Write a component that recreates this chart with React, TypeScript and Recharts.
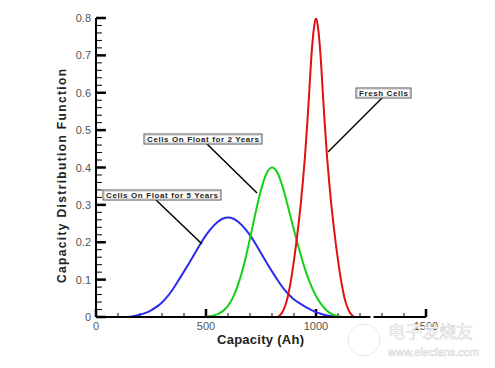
import { LineChart, Line, XAxis, YAxis, ReferenceLine } from 'recharts'

// capacity (Ah) sample points and the read-off distribution values
const blueCap = [
  125, 150, 175, 200, 225, 250, 275, 300, 325, 350, 375, 400, 425, 450, 475, 500, 525, 550, 575, 600, 625,
  650, 675, 700, 725, 750, 775, 800, 825, 850, 875, 900, 925, 950, 975, 1000, 1025, 1050, 1075, 1100,
]
const fiveYears = [
  0, 0.001, 0.003, 0.006, 0.011, 0.018, 0.027, 0.039, 0.055, 0.075, 0.098, 0.122, 0.146, 0.171, 0.196, 0.219,
  0.238, 0.253, 0.263, 0.266, 0.263, 0.253, 0.238, 0.219, 0.196, 0.171, 0.146, 0.122, 0.099, 0.078, 0.061,
  0.047, 0.037, 0.028, 0.02, 0.013, 0.008, 0.004, 0.002, 0,
]

const greenCap = [
  500, 525, 550, 575, 600, 625, 650, 675, 700, 725, 750, 775, 800, 825, 850, 875, 900, 925, 950, 975, 1000,
  1025, 1050, 1075, 1100, 1125,
]
const twoYears = [
  0.001, 0.003, 0.007, 0.015, 0.03, 0.055, 0.094, 0.146, 0.21, 0.278, 0.34, 0.384, 0.4, 0.386, 0.345, 0.29,
  0.232, 0.178, 0.128, 0.088, 0.056, 0.033, 0.017, 0.007, 0.002, 0,
]

const redCap = [
  830, 840, 850, 860, 870, 880, 890, 900, 910, 920, 930, 940, 950, 960, 970, 980, 990, 1000, 1010, 1020, 1030,
  1040, 1050, 1060, 1070, 1080, 1090, 1100, 1110, 1120, 1130, 1140, 1150, 1160, 1170,
]
const fresh = [
  0.002, 0.007, 0.016, 0.03, 0.05, 0.078, 0.112, 0.152, 0.196, 0.245, 0.298, 0.36, 0.43, 0.515, 0.61, 0.705,
  0.77, 0.8, 0.77, 0.705, 0.61, 0.515, 0.43, 0.36, 0.298, 0.245, 0.196, 0.152, 0.112, 0.078, 0.05, 0.03,
  0.016, 0.007, 0.002,
]

const xLabels = [0, 500, 1000, 1500]
const xMinor = [100, 200, 300, 400, 600, 700, 800, 900, 1100, 1200, 1300, 1400]
const yLabels = [0, 0.1, 0.2, 0.3, 0.4, 0.5, 0.6, 0.7, 0.8]
const yMinor: number[] = []
for (let i = 1; i < 40; i++) if (i % 5 !== 0) yMinor.push(i / 50)

const toRows = (xs: number[], ys: number[]) => xs.map((x, i) => ({ x, y: ys[i] }))

const W = 495
const H = 368
const LEFT = 96
const TOP = 18
const RIGHT = 426
const BOTTOM = 317
// tick mark lengths in data units (x ticks: 8px / 4px tall, y ticks: 10px / 6px wide)
const X_MAJOR_LEN = 0.0214
const X_MINOR_LEN = 0.0107
const Y_MAJOR_LEN = 45
const Y_MINOR_LEN = 27

const XTick = (props: any) => {
  const { x, payload } = props
  return (
    <text x={x} y={BOTTOM + 13} textAnchor="middle" fontSize={11} fill="#555" fontFamily="Liberation Sans, Arial">
      {payload.value}
    </text>
  )
}

const YTick = (props: any) => {
  const { y, payload } = props
  const v = payload.value
  return (
    <text x={LEFT - 5} y={y + 4} textAnchor="end" fontSize={11} fill="#555" fontFamily="Liberation Sans, Arial">
      {v === 0 ? '0' : v.toFixed(1)}
    </text>
  )
}

const Note = ({ x, y, w, text, lx1, ly1, lx2, ly2 }: any) => (
  <g>
    <line x1={lx1} y1={ly1} x2={lx2} y2={ly2} stroke="#000" strokeWidth={1.5} />
    <rect x={x} y={y} width={w} height={10} fill="#fff" stroke="#555" strokeWidth={1} />
    <rect x={x + 1.5} y={y + 1.5} width={w - 3} height={7} fill="none" stroke="#bbb" strokeWidth={0.5} />
    <text
      x={x + 3}
      y={y + 8}
      fontSize={8}
      fontWeight="bold"
      fill="#222"
      fontFamily="Liberation Sans, Arial"
      textLength={w - 6}
      lengthAdjust="spacing"
    >
      {text}
    </text>
  </g>
)

const tickSegment = (key: string, a: { x: number; y: number }, b: { x: number; y: number }, width: number) => (
  <ReferenceLine key={key} segment={[a, b]} stroke="#000" strokeWidth={width} ifOverflow="visible" />
)

export default function App() {
  return (
    <div style={{ position: 'absolute', left: 0, top: 0, width: W, height: H, background: '#fff' }}>
      <LineChart
        width={W}
        height={H}
        margin={{ top: TOP, right: W - RIGHT, bottom: 0, left: 0 }}
        style={{ position: 'absolute', left: 0, top: 0 }}
      >
        <XAxis
          type="number"
          dataKey="x"
          domain={[0, 1500]}
          ticks={xLabels}
          interval={0}
          height={H - BOTTOM}
          tickSize={0}
          tickLine={false}
          axisLine={{ stroke: '#000', strokeWidth: 2 }}
          tick={XTick}
          allowDataOverflow
        />
        <YAxis
          type="number"
          dataKey="y"
          domain={[0, 0.8]}
          ticks={yLabels}
          interval={0}
          width={LEFT}
          tickSize={0}
          tickLine={false}
          axisLine={{ stroke: '#000', strokeWidth: 2 }}
          tick={YTick}
          allowDataOverflow
        />
        {xLabels.map((v) => tickSegment(`xM${v}`, { x: v, y: 0 }, { x: v, y: X_MAJOR_LEN }, 2.5))}
        {xMinor.map((v) => tickSegment(`xm${v}`, { x: v, y: 0 }, { x: v, y: X_MINOR_LEN }, 1))}
        {yLabels.map((v) => tickSegment(`yM${v}`, { x: 0, y: v }, { x: Y_MAJOR_LEN, y: v }, 2.5))}
        {yMinor.map((v) => tickSegment(`ym${v}`, { x: 0, y: v }, { x: Y_MINOR_LEN, y: v }, 1))}
        <Line
          data={toRows(blueCap, fiveYears)}
          dataKey="y"
          type="monotone"
          stroke="#2b2bf0"
          strokeWidth={2}
          dot={false}
          isAnimationActive={false}
        />
        <Line
          data={toRows(greenCap, twoYears)}
          dataKey="y"
          type="monotone"
          stroke="#14d014"
          strokeWidth={2}
          dot={false}
          isAnimationActive={false}
        />
        <Line
          data={toRows(redCap, fresh)}
          dataKey="y"
          type="monotone"
          stroke="#e01010"
          strokeWidth={2}
          dot={false}
          isAnimationActive={false}
        />
      </LineChart>
      <svg width={W} height={H} style={{ position: 'absolute', left: 0, top: 0 }}>
        <text
          transform="translate(66,176) rotate(-90)"
          textAnchor="middle"
          fontSize={12}
          fontWeight="bold"
          fill="#222"
          fontFamily="Liberation Sans, Arial"
          textLength={214}
          lengthAdjust="spacing"
        >
          Capacity Distribution Function
        </text>
        <text
          x={217}
          y={344}
          fontSize={13}
          fontWeight="bold"
          fill="#222"
          fontFamily="Liberation Sans, Arial"
          textLength={87}
          lengthAdjust="spacing"
        >
          Capacity (Ah)
        </text>
        <Note x={356} y={88} w={55} text="Fresh Cells" lx1={383} ly1={97} lx2={328} ly2={152} />
        <Note x={144} y={134} w={118} text="Cells On Float for 2 Years" lx1={207} ly1={144} lx2={257} ly2={193} />
        <Note x={103} y={190} w={118} text="Cells On Float for 5 Years" lx1={156} ly1={200} lx2={202} ly2={244} />
        <g>
          <line x1={372} y1={315} x2={372} y2={324} stroke="#fff" strokeWidth={3} />
          <circle cx={364} cy={340} r={16} fill="none" stroke="#e0e0e0" strokeWidth={0.8} />
          <text x={388} y={338} fontSize={17} fill="#fff" stroke="#d4d4d4" strokeWidth={0.6} fontFamily="Noto Sans CJK SC">
            电子发烧友
          </text>
          <text x={388} y={356} fontSize={11} fill="#fff" stroke="#d4d4d4" strokeWidth={0.5} fontFamily="Liberation Sans, Arial">
            www.elecfans.com
          </text>
        </g>
      </svg>
    </div>
  )
}
